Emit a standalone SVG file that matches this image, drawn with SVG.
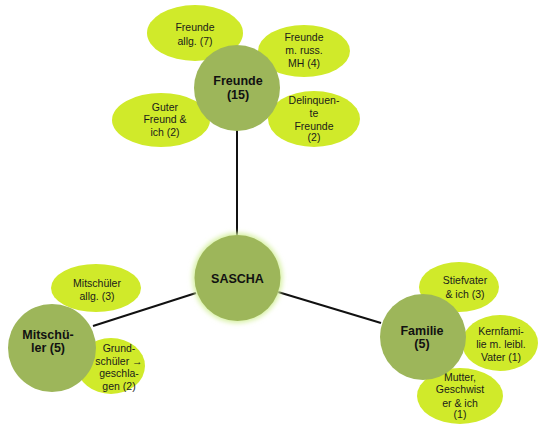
<svg xmlns="http://www.w3.org/2000/svg" width="538" height="426" viewBox="0 0 538 426">
  <defs>
    <style>
      .sat { fill: #d0ea2a; }
      .hub { fill: #9db65a; }
      .conn { stroke: #111; stroke-width: 2; fill: none; }
      .st { font-family: "Liberation Sans", Arial, sans-serif; font-size: 10.5px; fill: #1a1a1a; text-anchor: middle; }
      .ht { font-family: "Liberation Sans", Arial, sans-serif; font-size: 12.5px; font-weight: bold; fill: #111; text-anchor: middle; }
    </style>
    <filter id="glow" x="-30%" y="-30%" width="160%" height="160%">
      <feGaussianBlur stdDeviation="2.5"/>
    </filter>
  </defs>
  <rect width="538" height="426" fill="#fff"/>

  <!-- connectors -->
  <g id="connectors">
    <line class="conn" x1="237" y1="130" x2="237" y2="236"/>
    <line class="conn" x1="93" y1="326" x2="196" y2="293"/>
    <line class="conn" x1="278" y1="292" x2="381" y2="323"/>
  </g>

  <!-- Freunde cluster -->
  <g id="freunde-allg">
    <ellipse class="sat" cx="195" cy="33" rx="48" ry="28"/>
    <text class="st" x="195" y="31">Freunde</text>
    <text class="st" x="195" y="45">allg. (7)</text>
  </g>
  <g id="freunde-russ">
    <ellipse class="sat" cx="304" cy="51" rx="46" ry="26"/>
    <text class="st" x="304" y="41">Freunde</text>
    <text class="st" x="304" y="54">m. russ.</text>
    <text class="st" x="304" y="67">MH (4)</text>
  </g>
  <g id="guter-freund">
    <ellipse class="sat" cx="161" cy="120" rx="49" ry="27"/>
    <text class="st" x="165" y="111">Guter</text>
    <text class="st" x="165" y="123">Freund &amp;</text>
    <text class="st" x="165" y="136">ich (2)</text>
  </g>
  <g id="delinquente">
    <ellipse class="sat" cx="314" cy="119" rx="46" ry="28"/>
    <text class="st" x="314" y="104">Delinquen-</text>
    <text class="st" x="314" y="117">te</text>
    <text class="st" x="314" y="130">Freunde</text>
    <text class="st" x="314" y="141">(2)</text>
  </g>
  <g id="freunde">
    <circle class="hub" cx="237" cy="88" r="43"/>
    <text class="ht" x="238" y="85">Freunde</text>
    <text class="ht" x="238" y="99">(15)</text>
  </g>

  <!-- centre -->
  <g id="sascha">
    <circle cx="237.5" cy="278" r="45" fill="#d6f0a0" filter="url(#glow)"/>
    <circle class="hub" cx="237.5" cy="278" r="43"/>
    <text class="ht" x="237.5" y="283">SASCHA</text>
  </g>

  <!-- Mitschüler cluster -->
  <g id="mitschueler-allg">
    <ellipse class="sat" cx="96" cy="288" rx="45" ry="24"/>
    <text class="st" x="97" y="287">Mitschüler</text>
    <text class="st" x="97" y="300">allg. (3)</text>
  </g>
  <g id="grundschueler">
    <ellipse class="sat" cx="111" cy="366" rx="34" ry="28"/>
    <text class="st" x="119" y="352">Grund-</text>
    <text class="st" x="119" y="365">schüler →</text>
    <text class="st" x="119" y="377">geschla-</text>
    <text class="st" x="119" y="390">gen (2)</text>
  </g>
  <g id="mitschueler">
    <circle class="hub" cx="52" cy="348" r="44"/>
    <text class="ht" x="48" y="339">Mitschü-</text>
    <text class="ht" x="48" y="352">ler (5)</text>
  </g>

  <!-- Familie cluster -->
  <g id="stiefvater">
    <ellipse class="sat" cx="459" cy="287" rx="40" ry="25"/>
    <text class="st" x="465" y="284">Stiefvater</text>
    <text class="st" x="465" y="298">&amp; ich (3)</text>
  </g>
  <g id="kernfamilie">
    <ellipse class="sat" cx="500" cy="343" rx="38" ry="28"/>
    <text class="st" x="501" y="335">Kernfami-</text>
    <text class="st" x="501" y="348">lie m. leibl.</text>
    <text class="st" x="501" y="361">Vater (1)</text>
  </g>
  <g id="mutter">
    <ellipse class="sat" cx="460" cy="396" rx="43" ry="28"/>
    <text class="st" x="460" y="381">Mutter,</text>
    <text class="st" x="460" y="393">Geschwist</text>
    <text class="st" x="460" y="407">er &amp; ich</text>
    <text class="st" x="460" y="418">(1)</text>
  </g>
  <g id="familie">
    <circle class="hub" cx="423" cy="337" r="43"/>
    <text class="ht" x="422" y="335">Familie</text>
    <text class="ht" x="422" y="348">(5)</text>
  </g>
</svg>
